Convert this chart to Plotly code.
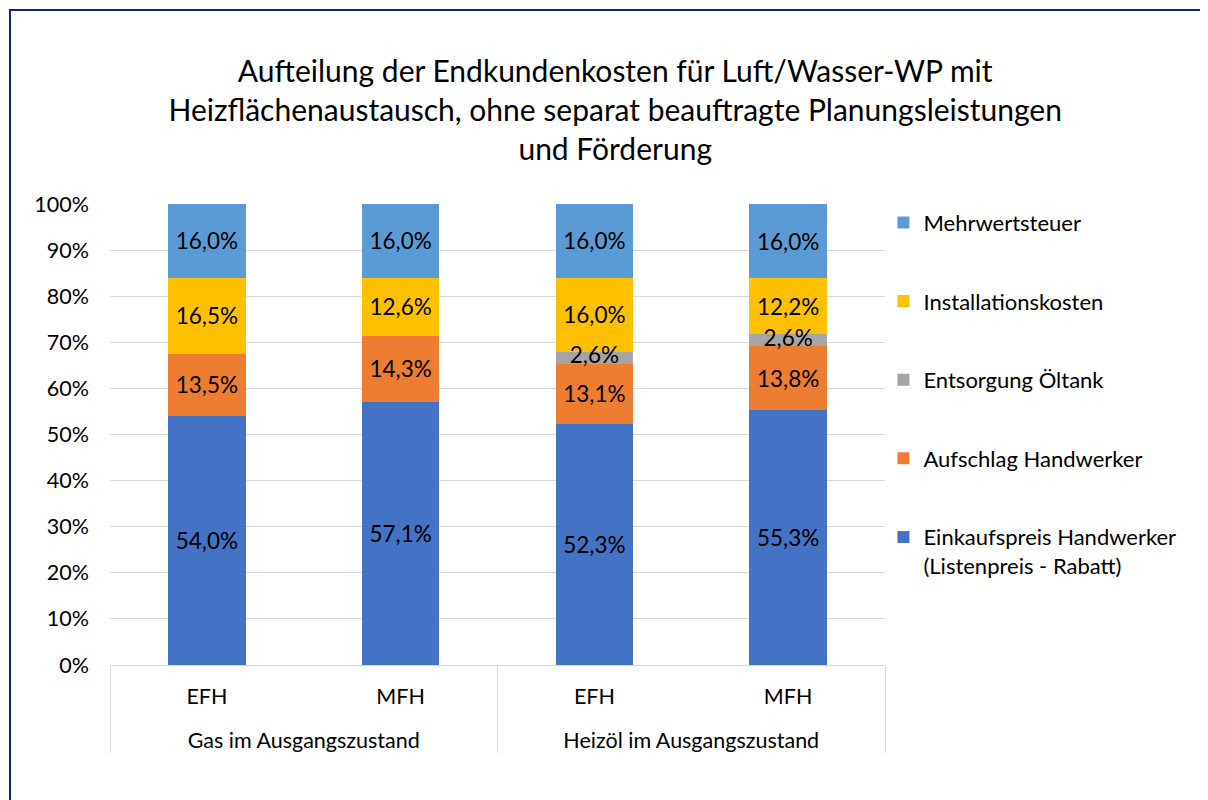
import plotly.graph_objects as go

groups = ["Gas im Ausgangszustand", "Gas im Ausgangszustand",
          "Heizöl im Ausgangszustand", "Heizöl im Ausgangszustand"]
types = ["EFH", "MFH", "EFH", "MFH"]

einkauf = [54.0, 57.1, 52.3, 55.3]
aufschlag = [13.5, 14.3, 13.1, 13.8]
entsorgung = [None, None, 2.6, 2.6]
installation = [16.5, 12.6, 16.0, 12.2]
mwst = [16.0, 16.0, 16.0, 16.0]

series = [
    ("Einkaufspreis Handwerker<br>(Listenpreis - Rabatt)", einkauf, "#4472C4"),
    ("Aufschlag Handwerker", aufschlag, "#ED7D31"),
    ("Entsorgung Öltank", entsorgung, "#A5A5A5"),
    ("Installationskosten", installation, "#FFC000"),
    ("Mehrwertsteuer", mwst, "#5B9BD5"),
]

FONT = "Lato, Carlito, Calibri, sans-serif"
FS_LAB = 22.5
FS_AX = 21.5
FS_LEG = 22

# outer group labels get a leading blank line to sit lower, as in the reference
groups_disp = ["<br>" + g for g in groups]

fig = go.Figure()
for i, (name, vals, col) in enumerate(series):
    small = name == "Entsorgung Öltank"
    fig.add_trace(go.Bar(
        x=[groups_disp, types], y=vals, name=name, marker_color=col,
        marker_line_width=0, width=0.4,
        texttemplate="%{y:.1f}%", textposition="none" if small else "inside",
        insidetextanchor="middle", textangle=0,
        textfont=dict(size=FS_LAB, color="black", family=FONT),
        legendgroup=str(i), legendrank=5 - i,
    ))

# labels for the thin grey segments, placed at the segment centre
base = [a + b for a, b in zip(einkauf, aufschlag)]
lab_x0, lab_x1, lab_y, lab_t = [], [], [], []
for g, t, b, v in zip(groups_disp, types, base, entsorgung):
    if v is not None:
        lab_x0.append(g); lab_x1.append(t); lab_y.append(b + v / 2)
        lab_t.append(f"{v:.1f}%".replace(".", ","))
fig.add_trace(go.Scatter(
    x=[lab_x0, lab_x1], y=lab_y, mode="text", text=lab_t,
    showlegend=False, hoverinfo="skip",
    textfont=dict(size=FS_LAB, color="black", family=FONT),
))

fig.update_layout(
    barmode="stack",
    separators=",.",
    width=1200, height=792,
    paper_bgcolor="white", plot_bgcolor="white",
    font=dict(family=FONT, size=FS_AX, color="#000000"),
    margin=dict(l=102, r=323, t=196, b=135, autoexpand=False),
    title=dict(
        text="Aufteilung der Endkundenkosten für Luft/Wasser-WP mit<br>"
             "Heizflächenaustausch, ohne separat beauftragte Planungsleistungen<br>"
             "und Förderung",
        x=0.506, xanchor="center", y=0.907, yanchor="top",
        font=dict(size=30, family=FONT, color="#000000"),
    ),
    legend=dict(
        x=0.998, xanchor="left", y=1.005, yanchor="top",
        traceorder="grouped", tracegroupgap=47,
        font=dict(size=FS_LEG, family=FONT), valign="top",
        itemwidth=30, bgcolor="rgba(0,0,0,0)",
    ),
    showlegend=True,
)
fig.update_yaxes(
    range=[0, 100], dtick=10, ticksuffix="%", showgrid=True, gridcolor="#D9D9D9",
    gridwidth=1, zeroline=False, showline=False, ticks="",
    tickfont=dict(size=FS_AX, family=FONT), automargin=False,
    ticklabelstandoff=20,
)
fig.update_xaxes(
    showline=True, linecolor="#D9D9D9", linewidth=1, ticks="",
    showdividers=True, dividercolor="#D9D9D9", dividerwidth=1,
    tickfont=dict(size=FS_AX, family=FONT), automargin=False,
    ticklabelstandoff=12,
)
fig.add_shape(type="rect", xref="paper", yref="paper",
              x0=(2 - 102) / 775, x1=1.45, y0=-0.5, y1=1 + (196 - 2) / 461,
              line=dict(color="#0B2A6F", width=2), fillcolor="rgba(0,0,0,0)")

fig.write_html("out.html")
